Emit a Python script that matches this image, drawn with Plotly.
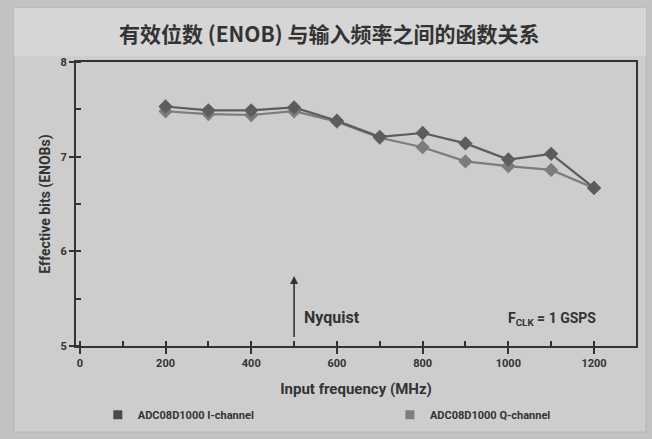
import plotly.graph_objects as go

freq = [200, 300, 400, 500, 600, 700, 800, 900, 1000, 1100, 1200]
i_channel = [7.53, 7.49, 7.49, 7.52, 7.38, 7.21, 7.25, 7.14, 6.97, 7.03, 6.67]
q_channel = [7.48, 7.45, 7.44, 7.48, 7.37, 7.20, 7.10, 6.95, 6.90, 6.86, 6.67]
x_ticks = [0, 200, 400, 600, 800, 1000, 1200]
y_ticks = [5, 6, 7, 8]
names = ["ADC08D1000 I-channel", "ADC08D1000 Q-channel"]
title = "有效位数 (ENOB) 与输入频率之间的函数关系"

font_narrow = "Roboto, Liberation Sans, sans-serif"
c_i = "#5c5c5c"
c_q = "#7c7c7c"

fig = go.Figure()
fig.add_trace(go.Scatter(x=freq, y=q_channel, mode="lines+markers", showlegend=False,
                         line=dict(color=c_q, width=2.2),
                         marker=dict(symbol="diamond", size=11, color=c_q)))
fig.add_trace(go.Scatter(x=freq, y=i_channel, mode="lines+markers", showlegend=False,
                         line=dict(color=c_i, width=2.2),
                         marker=dict(symbol="diamond", size=11, color=c_i)))
# legend entries (square swatches)
fig.add_trace(go.Scatter(x=[None], y=[None], mode="markers", name="<b>" + names[0] + "</b>",
                         legend="legend",
                         marker=dict(symbol="square", size=9, color="#4a4a4a")))
fig.add_trace(go.Scatter(x=[None], y=[None], mode="markers", name="<b>" + names[1] + "</b>",
                         legend="legend2",
                         marker=dict(symbol="square", size=9, color="#7e7e7e")))

# Nyquist arrow
fig.add_annotation(x=500, y=5.74, ax=500, ay=5.08, xref="x", yref="y", axref="x", ayref="y",
                   text="", showarrow=True, arrowhead=2, arrowsize=1, arrowwidth=1.6,
                   arrowcolor="#333333")
fig.add_annotation(x=518, y=5.30, xref="x", yref="y", text="<b>Nyquist</b>", showarrow=False,
                   xanchor="left", font=dict(family=font_narrow, size=16, color="#333333"))
fig.add_annotation(x=1210, y=5.28, xref="x", yref="y",
                   text="<b>F<sub>CLK</sub> = 1 GSPS</b>", showarrow=False,
                   xanchor="right", font=dict(family=font_narrow, size=14, color="#333333"))

# inner panel and title band
fig.add_shape(type="rect", xref="paper", yref="paper", x0=-0.111, x1=1.018, y0=-0.303, y1=1.19,
              fillcolor="#cdcdcd", line=dict(color="#b4b4b4", width=1), layer="below")
fig.add_shape(type="rect", xref="paper", yref="paper", x0=-0.111, x1=1.018, y0=1.02, y1=1.19,
              fillcolor="#d6d6d6", line=dict(width=0), layer="below")

legend_common = dict(orientation="h", xref="container", y=0.055, yref="container",
                     xanchor="left", yanchor="middle", bgcolor="rgba(0,0,0,0)",
                     font=dict(family=font_narrow, size=11, color="#333"))

fig.update_layout(
    width=652, height=439,
    margin=dict(l=76, r=16, t=62, b=93),
    paper_bgcolor="#c2c2c2",
    plot_bgcolor="#e6e6e6",
    title=dict(text="<b>" + title + "</b>", x=0.505, xref="container", xanchor="center",
               y=0.92, yanchor="middle",
               font=dict(family="Noto Sans CJK SC", size=21, color="#333333")),
    xaxis=dict(range=[-9, 1298], tickvals=x_ticks, ticks="outside", ticklen=6, tickwidth=1.5,
               minor=dict(dtick=100, tick0=0, ticks="inside", ticklen=5, tickwidth=1.5, tickcolor="#333"),
               tickcolor="#333", showgrid=False, zeroline=False, automargin=False,
               showline=True, linecolor="#333", linewidth=2, mirror=True,
               tickfont=dict(family=font_narrow, size=11, color="#333", weight="bold"),
               title=dict(text="<b>Input frequency (MHz)</b>", standoff=14,
                          font=dict(family=font_narrow, size=15, color="#333"))),
    yaxis=dict(range=[5, 8], tickvals=y_ticks, ticks="outside", ticklen=5, tickwidth=1.5,
               minor=dict(dtick=0.5, tick0=5, ticks="inside", ticklen=5, tickwidth=1.5, tickcolor="#333"),
               tickcolor="#333", showgrid=False, zeroline=False, automargin=False,
               showline=True, linecolor="#333", linewidth=2, mirror=True,
               tickfont=dict(family=font_narrow, size=11, color="#333", weight="bold"),
               title=dict(text="<b>Effective bits (ENOBs)</b>", standoff=7,
                          font=dict(family=font_narrow, size=14, color="#333"))),
    legend=dict(x=0.15, **legend_common),
    legend2=dict(x=0.598, **legend_common),
)

fig.write_html("out.html", config={"displayModeBar": False},
               post_script="document.body.style.margin='0';document.body.style.background='#c2c2c2';")
